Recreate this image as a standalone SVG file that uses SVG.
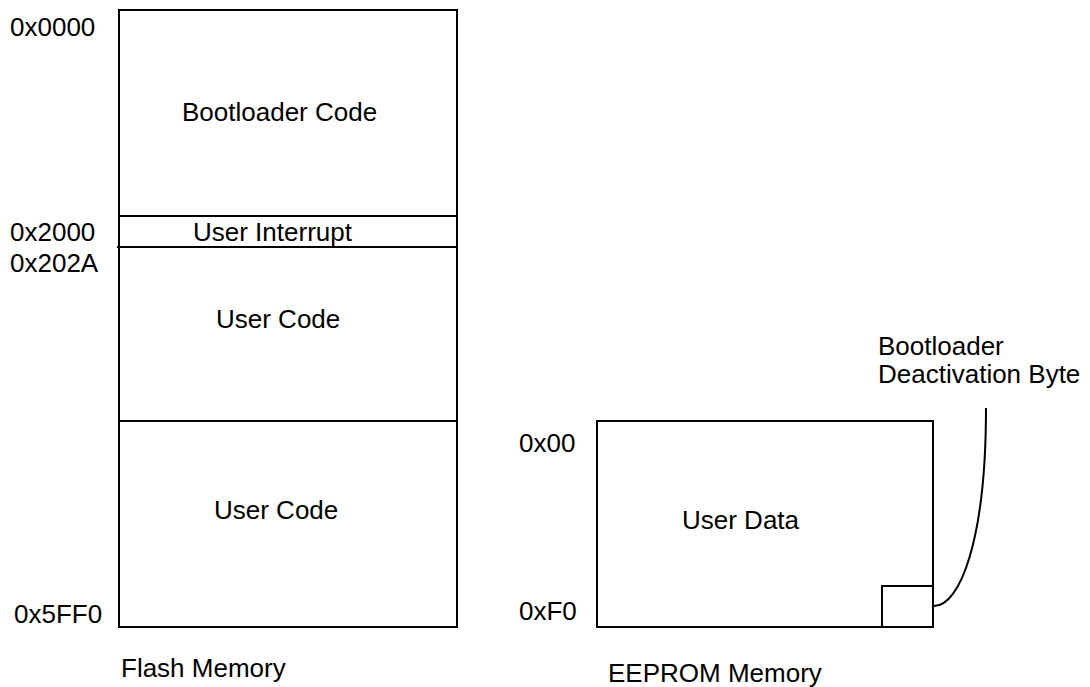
<svg xmlns="http://www.w3.org/2000/svg" width="1090" height="687" viewBox="0 0 1090 687">
<style>
  .box { fill: #ffffff; stroke: #000000; stroke-width: 2; }
  .ln { fill: none; stroke: #000000; stroke-width: 2; }
  text { font-family: "Liberation Sans", Arial, sans-serif; font-size: 26px; fill: #000000; }
</style>
<rect width="1090" height="687" fill="#ffffff"/>
<g id="flash">
  <rect class="box" x="119" y="10" width="338" height="617"/>
  <line class="ln" x1="119" y1="216" x2="457" y2="216"/>
  <line class="ln" x1="117" y1="247" x2="457" y2="247"/>
  <line class="ln" x1="119" y1="421" x2="457" y2="421"/>
</g>
<g id="bootloader-code"><text x="182" y="121">Bootloader Code</text></g>
<g id="user-interrupt"><text x="193" y="241">User Interrupt</text></g>
<g id="user-code-1"><text x="216" y="328">User Code</text></g>
<g id="user-code-2"><text x="214" y="519">User Code</text></g>
<g id="flash-labels">
  <text x="10" y="36">0x0000</text>
  <text x="10" y="241">0x2000</text>
  <text x="10" y="272">0x202A</text>
  <text x="14" y="623">0x5FF0</text>
  <text x="121" y="677">Flash Memory</text>
</g>
<g id="eeprom">
  <rect class="box" x="597" y="421" width="336" height="206"/>
  <text x="682" y="529">User Data</text>
</g>
<g id="deactivation-byte">
  <rect class="box" x="882" y="586" width="51" height="41"/>
</g>
<g id="eeprom-labels">
  <text x="519" y="452">0x00</text>
  <text x="519" y="620">0xF0</text>
  <text x="608" y="682">EEPROM Memory</text>
</g>
<g id="callout-label">
  <text x="878" y="355">Bootloader</text>
  <text x="878" y="383">Deactivation Byte</text>
</g>
<g id="connectors">
  <path class="ln" d="M986,408 C986,540 960,606 934,606"/>
</g>
</svg>
